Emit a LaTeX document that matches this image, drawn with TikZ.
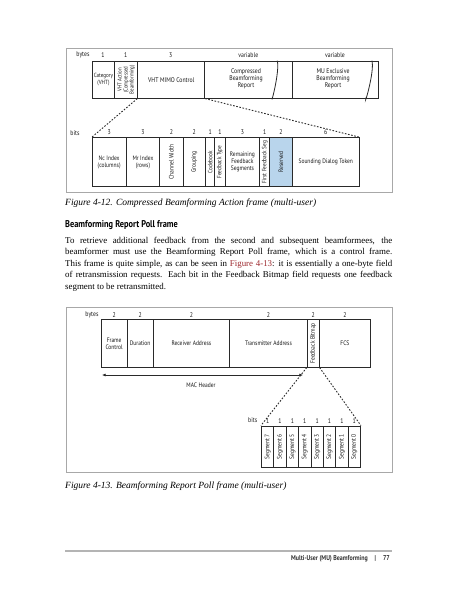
\documentclass[tikz,border=0pt]{standalone}
\usepackage{fontspec}
\setmainfont{Liberation Serif}
\newfontfamily\dg[FakeStretch=0.85]{PT Sans}
\usetikzlibrary{arrows.meta}
\definecolor{resblue}{HTML}{B9D5EC}
\definecolor{linkred}{HTML}{9E2A2F}
\definecolor{framegray}{HTML}{A8A8A8}
\definecolor{boxline}{HTML}{2A2A2A}
\definecolor{rulegray}{HTML}{B4B4B4}
\begin{document}
\begin{tikzpicture}[x=1pt,y=-1pt,
  fld/.style={draw=boxline, line width=0.9pt, anchor=north west, inner sep=0pt},
  lbl/.style={font=\dg\fontsize{6.8}{7.2}\selectfont, inner sep=0pt, align=center, text=black!90},
  slbl/.style={font=\dg\fontsize{6.5}{7.0}\selectfont, inner sep=0pt, align=center, text=black!90},
  rlbl/.style={slbl, rotate=90},
  dots/.style={draw=boxline, line width=0.9pt, dash pattern=on 1.6pt off 1.6pt},
  frm/.style={draw=framegray, line width=0.8pt, anchor=north west, inner sep=0pt},
  bodyline/.style={anchor=west, inner sep=0pt, font=\fontsize{8.9}{11}\selectfont},
  figcap/.style={anchor=west, inner sep=0pt, font=\itshape\fontsize{9.5}{11}\selectfont}
]
\useasboundingbox[fill=white] (0,0) rectangle (457,600);

% ---------------- Figure 4-12 ----------------
\node[frm, minimum width=326.3pt, minimum height=143.5pt] (frame1) at (65.7,48.3) {};
\node[lbl] (bytes1) at (83,55) {bytes};
\node[fld, minimum width=22.6pt, minimum height=37pt] (cat) at (91.7,60.7) {};
\node[fld, minimum width=23pt, minimum height=37pt] (vhta) at (114.3,60.7) {};
\node[fld, minimum width=67pt, minimum height=37pt] (mimo) at (137.3,60.7) {};
\node[fld, minimum width=88pt, minimum height=37pt] (cbr) at (204.3,60.7) {};
\node[fld, minimum width=85.7pt, minimum height=37pt] (mue) at (292.3,60.7) {};
\node[lbl] (b-cat) at (103,55) {1};
\node[lbl] (b-vhta) at (125.8,55) {1};
\node[lbl] (b-mimo) at (170.8,55) {3};
\node[lbl] (b-cbr) at (248.3,55) {variable};
\node[lbl] (b-mue) at (335,55) {variable};
\node[slbl, font=\dg\fontsize{6.0}{6.5}\selectfont] (t-cat) at (cat.center) {Category\\(VHT)};
\node[rlbl, font=\dg\fontsize{5.7}{6.0}\selectfont] (t-vhta) at (vhta.center) {VHT Action\\(Compressed\\Beamforming)};
\node[lbl] (t-mimo) at (mimo.center) {VHT MIMO Control};
\node[lbl] (t-cbr) at (246,79) {Compressed\\Beamforming\\Report};
\node[lbl] (t-mue) at (333,79) {MU Exclusive\\Beamforming\\Report};
\draw[boxline, line width=0.8pt] (cbr.north east) ++(-16,0) .. controls ++(3,10) and ++(-2,10) .. ++(-5,37);
\draw[boxline, line width=0.8pt] (mue.north east) ++(-7,0) .. controls ++(3,10) and ++(-2,10) .. ++(-6,37);

\node[lbl] (bits1) at (75,132.7) {bits};
\node[fld, minimum width=34pt, minimum height=48.7pt] (nc) at (91.7,137.3) {};
\node[fld, minimum width=33.6pt, minimum height=48.7pt] (mr) at (125.7,137.3) {};
\node[fld, minimum width=23.4pt, minimum height=48.7pt] (cw) at (159.3,137.3) {};
\node[fld, minimum width=22.3pt, minimum height=48.7pt] (grp) at (182.7,137.3) {};
\node[fld, minimum width=9.3pt, minimum height=48.7pt] (cb) at (205,137.3) {};
\node[fld, minimum width=10.4pt, minimum height=48.7pt] (ft) at (214.3,137.3) {};
\node[fld, minimum width=34.6pt, minimum height=48.7pt] (rem) at (224.7,137.3) {};
\node[fld, minimum width=10pt, minimum height=48.7pt] (ffs) at (259.3,137.3) {};
\node[fld, minimum width=22.4pt, minimum height=48.7pt, fill=resblue] (res) at (269.3,137.3) {};
\node[fld, minimum width=67.3pt, minimum height=48.7pt] (sdt) at (291.7,137.3) {};
\foreach \n/\v in {nc/3, mr/3, cw/2, grp/2, cb/1, ft/1, rem/3, ffs/1, res/2, sdt/6}{
  \node[lbl, anchor=base] (bit-\n) at ([yshift=2.4pt]\n.north) {\v};
}
\node[slbl] (t-nc) at (nc.center) {Nc Index\\(columns)};
\node[slbl] (t-mr) at (mr.center) {Mr Index\\(rows)};
\node[rlbl] (t-cw) at (cw.center) {Channel Width};
\node[rlbl] (t-grp) at (grp.center) {Grouping};
\node[rlbl, font=\dg\fontsize{6.2}{6.6}\selectfont] (t-cb) at (cb.center) {Codebook};
\node[rlbl, font=\dg\fontsize{6.2}{6.6}\selectfont] (t-ft) at (ft.center) {Feedback Type};
\node[slbl] (t-rem) at (rem.center) {Remaining\\Feedback\\Segments};
\node[rlbl, font=\dg\fontsize{6.2}{6.6}\selectfont] (t-ffs) at (ffs.center) {First Feedback Seg};
\node[rlbl] (t-res) at (res.center) {Reserved};
\node[slbl] (t-sdt) at (sdt.center) {Sounding Dialog Token};
\draw[dots] (mimo.south west) -- (nc.north west);
\draw[dots] (mimo.south east) -- (sdt.north east);

\node[figcap] (cap1) at (65,203.5) {Figure 4-12. Compressed Beamforming Action frame (multi-user)};

% ---------------- Text ----------------
\node[anchor=west, inner sep=0pt, font=\dg\bfseries\fontsize{9.8}{11}\selectfont] (head) at (65,225) {Beamforming Report Poll frame};
\node[bodyline] (p1) at (65,241) {\hbox to 327pt{To retrieve additional feedback from the second and subsequent beamformees, the}};
\node[bodyline] (p2) at (65,252.5) {\hbox to 327pt{beamformer must use the Beamforming Report Poll frame, which is a control frame.}};
\node[bodyline] (p3) at (65,264) {\hbox to 327pt{This frame is quite simple, as can be seen in \textcolor{linkred}{Figure 4-13}: it is essentially a one-byte field}};
\node[bodyline] (p4) at (65,275.5) {\hbox to 327pt{of retransmission requests. Each bit in the Feedback Bitmap field requests one feedback}};
\node[bodyline] (p5) at (65,287) {segment to be retransmitted.};

% ---------------- Figure 4-13 ----------------
\node[frm, minimum width=326.3pt, minimum height=165pt] (frame2) at (65.7,307) {};
\node[lbl] (bytes2) at (92,315) {bytes};
\node[fld, minimum width=26pt, minimum height=47.7pt] (fc) at (100.7,319) {};
\node[fld, minimum width=26pt, minimum height=47.7pt] (dur) at (126.7,319) {};
\node[fld, minimum width=76.6pt, minimum height=47.7pt] (ra) at (152.7,319) {};
\node[fld, minimum width=77.4pt, minimum height=47.7pt] (ta) at (229.3,319) {};
\node[fld, minimum width=12pt, minimum height=47.7pt] (fb) at (306.7,319) {};
\node[fld, minimum width=51.6pt, minimum height=47.7pt] (fcs) at (318.7,319) {};
\foreach \n in {fc, dur, ra, ta, fb, fcs}{
  \node[lbl, anchor=base] (byte-\n) at ([yshift=2.0pt]\n.north) {2};
}
\node[slbl] (t-fc) at (fc.center) {Frame\\Control};
\node[slbl] (t-dur) at (dur.center) {Duration};
\node[slbl] (t-ra) at (ra.center) {Receiver Address};
\node[slbl] (t-ta) at (ta.center) {Transmitter Address};
\node[rlbl] (t-fb) at (fb.center) {Feedback Bitmap};
\node[slbl] (t-fcs) at (fcs.center) {FCS};

\coordinate (macL) at (101.7,375);
\coordinate (macR) at (303.3,375);
\draw[boxline, line width=0.9pt, {Latex[length=4pt,width=3pt]}-{Latex[length=4pt,width=3pt]}] (macL) -- (macR);
\node[slbl] (machdr) at (201,385) {MAC Header};

\node[lbl] (bits2) at (252.7,420) {bits};
\foreach \i/\k in {0/7,1/6,2/5,3/4,4/3,5/2,6/1,7/0}{
  \node[fld, minimum width=12.375pt, minimum height=41.5pt] (s\k) at ({261+\i*12.375},425.5) {};
  \node[rlbl] (t-s\k) at (s\k.center) {Segment \k};
  \node[lbl, anchor=base] (bit-s\k) at ([yshift=2.4pt]s\k.north) {1};
}
\draw[dots] (fb.south west) -- (s7.north west);
\draw[dots] (fb.south east) -- (s0.north east);

\node[figcap] (cap2) at (65,486) {Figure 4-13. Beamforming Report Poll frame (multi-user)};

% ---------------- Footer ----------------
\coordinate (ruleL) at (65,551);
\coordinate (ruleR) at (392,551);
\draw[rulegray, line width=1.3pt] (ruleL) -- (ruleR);
\node[anchor=east, inner sep=0pt, font=\dg\bfseries\fontsize{7.0}{7.5}\selectfont, text=black!80] (foot) at (390,559) {Multi-User (MU) Beamforming\hspace{7pt}|\hspace{7pt}77};
\end{tikzpicture}
\end{document}
